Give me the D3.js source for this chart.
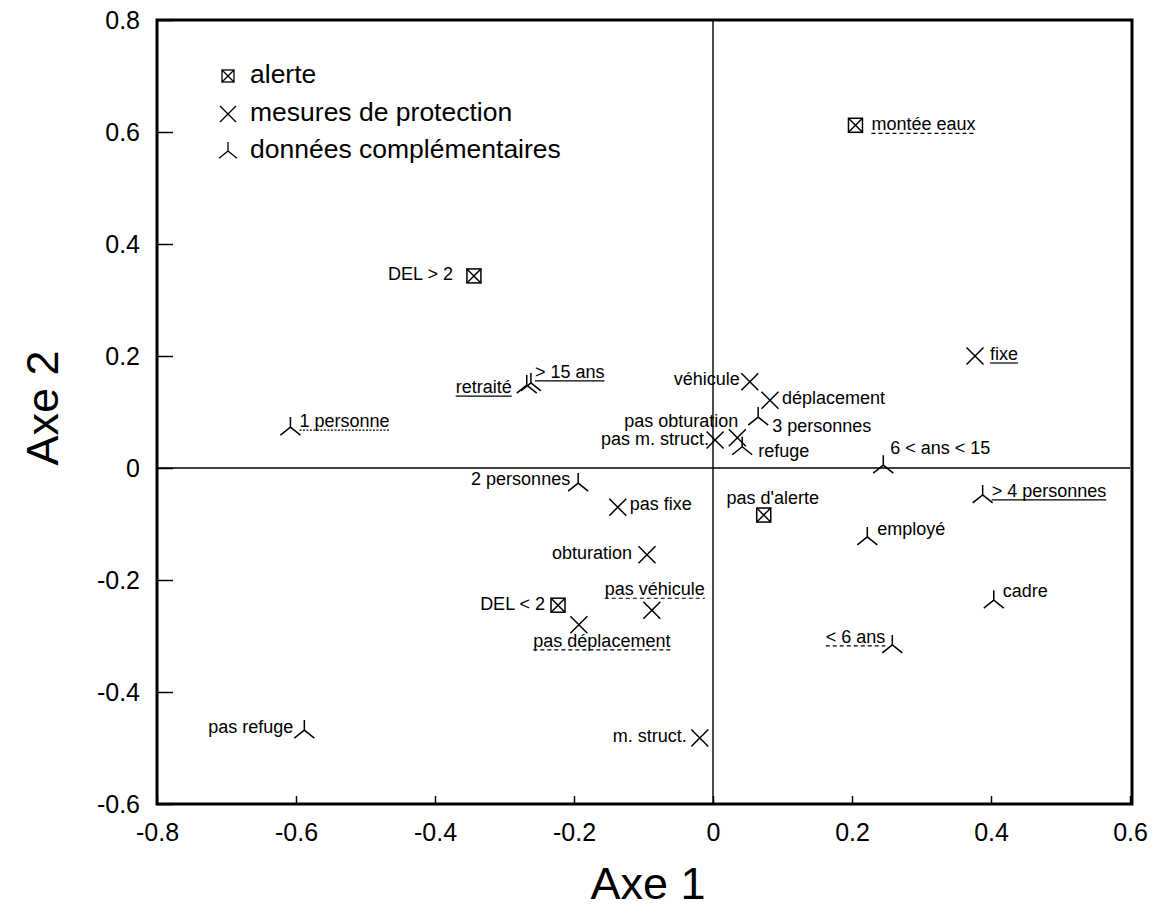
<!DOCTYPE html>
<html>
<head>
<meta charset="utf-8">
<script src="https://cdn.jsdelivr.net/npm/d3@7/dist/d3.min.js"></script>
<style>
  html, body { margin: 0; padding: 0; background: #fff; }
  svg { display: block; font-family: "Liberation Sans", Arial, Helvetica, sans-serif; }
</style>
</head>
<body>
<svg id="chart" width="1156" height="915"></svg>
<script>
// Factorial map: modalities projected on axes 1 and 2
const alerteLabels = ["montée eaux", "DEL > 2", "pas d'alerte", "DEL < 2"];
const alerteAxe1   = [0.205, -0.344, 0.073, -0.223];
const alerteAxe2   = [0.612, 0.343, -0.084, -0.245];

const protectionLabels = ["fixe", "véhicule", "déplacement", "pas obturation", "pas m. struct.",
                          "pas fixe", "obturation", "pas véhicule", "pas déplacement", "m. struct."];
const protectionAxe1   = [0.377, 0.053, 0.082, 0.035, 0.003, -0.137, -0.095, -0.088, -0.193, -0.019];
const protectionAxe2   = [0.200, 0.154, 0.121, 0.054, 0.050, -0.070, -0.155, -0.254, -0.280, -0.482];

const complLabels = ["1 personne", "retraité", "> 15 ans", "2 personnes", "3 personnes", "refuge",
                     "6 < ans < 15", "> 4 personnes", "employé", "cadre", "< 6 ans", "pas refuge"];
const complAxe1   = [-0.608, -0.268, -0.262, -0.194, 0.065, 0.042, 0.245, 0.388, 0.222, 0.404, 0.258, -0.588];
const complAxe2   = [0.073, 0.148, 0.152, -0.027, 0.091, 0.038, 0.005, -0.048, -0.123, -0.236, -0.316, -0.468];

const xTicks = [-0.8, -0.6, -0.4, -0.2, 0, 0.2, 0.4, 0.6];
const yTicks = [-0.6, -0.4, -0.2, 0, 0.2, 0.4, 0.6, 0.8];

const legendLabels = ["alerte", "mesures de protection", "données complémentaires"];
const axisTitles = ["Axe 1", "Axe 2"];

// Label placement: offset of the text from its point, anchor and underline style
const labelLayout = {
  "montée eaux":     { dx: 16,  dy: 5,   anchor: "start",  line: "dash" },
  "DEL > 2":         { dx: -21, dy: 4,   anchor: "end" },
  "pas d'alerte":    { dx: 9,   dy: -11, anchor: "middle" },
  "DEL < 2":         { dx: -13, dy: 5,   anchor: "end" },
  "fixe":            { dx: 15,  dy: 4,   anchor: "start",  line: "solid" },
  "véhicule":        { dx: -10, dy: 3,   anchor: "end" },
  "déplacement":     { dx: 12,  dy: 4,   anchor: "start" },
  "pas obturation":  { dx: 1,   dy: -11, anchor: "end" },
  "pas m. struct.":  { dx: -6,  dy: 5,   anchor: "end" },
  "pas fixe":        { dx: 12,  dy: 3,   anchor: "start" },
  "obturation":      { dx: -15, dy: 4,   anchor: "end" },
  "pas véhicule":    { dx: 3,   dy: -15, anchor: "middle", line: "dash" },
  "pas déplacement": { dx: 23,  dy: 22,  anchor: "middle", line: "dash" },
  "m. struct.":      { dx: -13, dy: 4,   anchor: "end" },
  "1 personne":      { dx: 9,   dy: 0,   anchor: "start",  line: "dot" },
  "retraité":        { dx: -15, dy: 8,   anchor: "end",    line: "solid" },
  "> 15 ans":        { dx: 4,   dy: -5,  anchor: "start",  line: "solid" },
  "2 personnes":     { dx: -8,  dy: 2,   anchor: "end" },
  "3 personnes":     { dx: 14,  dy: 15,  anchor: "start" },
  "refuge":          { dx: 16,  dy: 10,  anchor: "start" },
  "6 < ans < 15":    { dx: 7,   dy: -11, anchor: "start" },
  "> 4 personnes":   { dx: 9,   dy: 2,   anchor: "start",  line: "solid" },
  "employé":         { dx: 10,  dy: -2,  anchor: "start" },
  "cadre":           { dx: 9,   dy: -3,  anchor: "start" },
  "< 6 ans":         { dx: -7,  dy: -2,  anchor: "end",    line: "dash" },
  "pas refuge":      { dx: -11, dy: 3,   anchor: "end" }
};

const svg = d3.select("#chart");
const plot = { left: 157, right: 1130, top: 20, bottom: 804 };

const x = d3.scaleLinear().domain([-0.8, 0.6]).range([plot.left, plot.right]);
const y = d3.scaleLinear().domain([-0.6, 0.8]).range([plot.bottom, plot.top]);

// Marker shapes
function boxMarker(g, s) {
  g.append("rect").attr("x", -s).attr("y", -s).attr("width", 2 * s).attr("height", 2 * s);
  g.append("path").attr("d", `M${-s},${-s}L${s},${s}M${s},${-s}L${-s},${s}`);
}
function crossMarker(g, s) {
  g.append("path").attr("d", `M${-s},${-s}L${s},${s}M${s},${-s}L${-s},${s}`);
}
function tripodMarker(g, s) {
  g.append("path").attr("d", `M0,${-s}L0,0M0,0L${-s},${s * 0.8}M0,0L${s},${s * 0.8}`);
}

// Inner axis lines through the origin
svg.append("line").attr("x1", x(0)).attr("x2", x(0)).attr("y1", plot.top).attr("y2", plot.bottom)
  .attr("stroke", "#000").attr("stroke-width", 1.4);
svg.append("line").attr("x1", plot.left).attr("x2", plot.right).attr("y1", y(0)).attr("y2", y(0))
  .attr("stroke", "#000").attr("stroke-width", 1.4);

// Axes: inward ticks, plain hyphen for negatives
const fmt = d => d === 0 ? "0" : d.toFixed(1);
const yAxis = d3.axisLeft(y).tickValues(yTicks).tickSize(-16).tickPadding(34).tickFormat(fmt);
const xAxis = d3.axisBottom(x).tickValues(xTicks).tickSize(-8).tickPadding(24).tickFormat(fmt);

const gy = svg.append("g").attr("transform", `translate(${plot.left},0)`).call(yAxis);
const gx = svg.append("g").attr("transform", `translate(0,${plot.bottom})`).call(xAxis);
[gx, gy].forEach(g => {
  g.select(".domain").remove();
  g.selectAll(".tick line").attr("stroke", "#000").attr("stroke-width", 1.5);
  g.selectAll(".tick text").attr("font-size", 25).attr("fill", "#000")
    .attr("font-family", "'Liberation Sans', Arial, sans-serif");
});
gy.selectAll(".tick text").attr("dy", "0.35em").attr("x", -17);
gx.selectAll(".tick text").attr("dy", "0.5em");

// Frame
svg.append("rect").attr("x", plot.left).attr("y", plot.top)
  .attr("width", plot.right + 2 - plot.left).attr("height", plot.bottom - plot.top)
  .attr("fill", "none").attr("stroke", "#000").attr("stroke-width", 3);

// Axis titles
svg.append("text").attr("x", 648).attr("y", 899).attr("text-anchor", "middle")
  .attr("font-size", 45).text(axisTitles[0]);
svg.append("text").attr("transform", `translate(58,408) rotate(-90)`)
  .attr("text-anchor", "middle").attr("font-size", 45).text(axisTitles[1]);

// Points and labels
const groups = [
  { labels: alerteLabels, xs: alerteAxe1, ys: alerteAxe2, draw: g => boxMarker(g, 7) },
  { labels: protectionLabels, xs: protectionAxe1, ys: protectionAxe2, draw: g => crossMarker(g, 8.5) },
  { labels: complLabels, xs: complAxe1, ys: complAxe2, draw: g => tripodMarker(g, 10) }
];

const marks = svg.append("g");
groups.forEach(grp => {
  grp.labels.forEach((name, i) => {
    const px = x(grp.xs[i]), py = y(grp.ys[i]);
    const m = marks.append("g").attr("transform", `translate(${px},${py})`)
      .attr("fill", "none").attr("stroke", "#000").attr("stroke-width", 1.5);
    grp.draw(m);

    const L = labelLayout[name];
    const t = marks.append("text").attr("x", px + L.dx).attr("y", py + L.dy)
      .attr("text-anchor", L.anchor).attr("font-size", 18).attr("fill", "#000").text(name);
    if (L.line) {
      const b = t.node().getBBox();
      marks.append("line")
        .attr("x1", b.x).attr("x2", b.x + b.width)
        .attr("y1", py + L.dy + 3).attr("y2", py + L.dy + 3)
        .attr("stroke", "#000").attr("stroke-width", 1.2)
        .attr("stroke-dasharray", L.line === "dash" ? "4,3" : L.line === "dot" ? "2,1.5" : null);
    }
  });
});

// Legend
const legend = svg.append("g");
const legendMarkers = [g => boxMarker(g, 6), g => crossMarker(g, 8), g => tripodMarker(g, 9)];
const legendRows = [76, 114, 151];
legendLabels.forEach((name, i) => {
  const ly = legendRows[i];
  const m = legend.append("g").attr("transform", `translate(228,${ly})`)
    .attr("fill", "none").attr("stroke", "#000").attr("stroke-width", 1.3);
  legendMarkers[i](m);
  legend.append("text").attr("x", 250).attr("y", ly + 7).attr("font-size", 26.5).text(name);
});
</script>
</body>
</html>
